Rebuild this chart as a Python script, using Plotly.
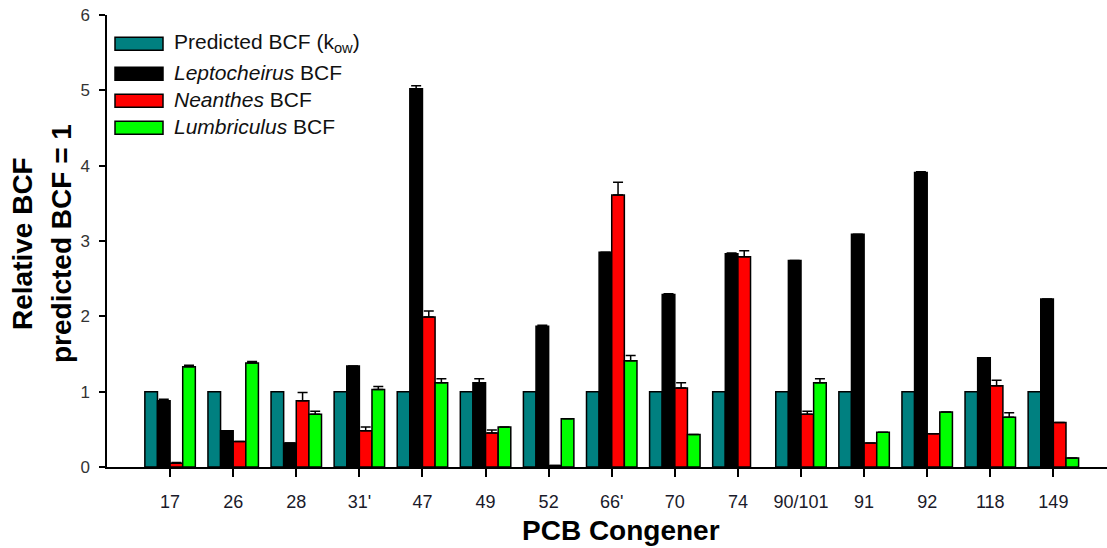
import plotly.graph_objects as go

congeners = ["17", "26", "28", "31'", "47", "49", "52", "66'", "70", "74",
             "90/101", "91", "92", "118", "149"]
predicted = [1, 1, 1, 1, 1, 1, 1, 1, 1, 1, 1, 1, 1, 1, 1]
lepto = [0.88, 0.48, 0.32, 1.34, 5.02, 1.12, 1.87, 2.85, 2.29, 2.83, 2.74, 3.09, 3.91, 1.45, 2.23]
lepto_err = [0.02, 0.0, 0.0, 0.0, 0.04, 0.05, 0.01, 0.0, 0.01, 0.01, 0.0, 0.0, 0.01, 0.0, 0.0]
neanthes = [0.05, 0.34, 0.88, 0.48, 1.99, 0.45, 0.02, 3.61, 1.05, 2.79, 0.70, 0.32, 0.44, 1.08, 0.59]
neanthes_err = [0.01, 0.0, 0.11, 0.05, 0.08, 0.04, 0.0, 0.17, 0.07, 0.08, 0.04, 0.0, 0.0, 0.07, 0.0]
lumb = [1.33, 1.38, 0.70, 1.03, 1.12, 0.53, 0.64, 1.41, 0.43, None, 1.12, 0.46, 0.73, 0.66, 0.12]
lumb_err = [0.02, 0.02, 0.04, 0.04, 0.05, 0.0, 0.0, 0.07, 0.0, 0.0, 0.05, 0.0, 0.0, 0.06, 0.0]

series_names = ["Predicted BCF (k<sub>ow</sub>)", "<i>Leptocheirus</i> BCF",
                "<i>Neanthes</i> BCF", "<i>Lumbriculus</i> BCF"]
series_colors = ["#008080", "#000000", "#FF0000", "#00FF00"]

FONT = "Arial, Liberation Sans, sans-serif"

fig = go.Figure()
values = [predicted, lepto, neanthes, lumb]
errors = [None, lepto_err, neanthes_err, lumb_err]
for name, col, vals, err in zip(series_names, series_colors, values, errors):
    kw = {}
    if err is not None:
        kw["error_y"] = dict(type="data", array=err, arrayminus=[0] * len(err),
                             symmetric=False, color="black", thickness=1.5, width=5)
    fig.add_trace(go.Bar(x=congeners, y=vals, name=name,
                         marker=dict(color=col, line=dict(color="black", width=1.5)),
                         showlegend=False, **kw))

# plot area in page pixels spans x 107..1107, y 15..467
L, T, PW, PH = 107, 15, 1000, 452
W, H = 1107, 548
def px_x(p):
    return (p - L) / PW
def px_y(p):
    return (T + PH - p) / PH

# custom legend (wide swatches like the original)
legend_rows = [43.7, 73.8, 100.7, 127.8]
for name, col, cy in zip(series_names, series_colors, legend_rows):
    fig.add_shape(type="rect", xref="paper", yref="paper",
                  x0=px_x(115), x1=px_x(163), y0=px_y(cy + 6.5), y1=px_y(cy - 6.5),
                  fillcolor=col, line=dict(color="black", width=1.5))
    fig.add_annotation(xref="paper", yref="paper", x=px_x(172), y=px_y(cy - 1),
                       text=name, showarrow=False, xanchor="left", yanchor="middle",
                       font=dict(family=FONT, size=21, color="#111"))

# axis titles
fig.add_annotation(xref="paper", yref="paper", x=0, y=px_y(244), xshift=23 - L,
                   text="<b>Relative BCF</b>", textangle=-90, showarrow=False,
                   xanchor="center", yanchor="middle",
                   font=dict(family=FONT, size=28, color="black"))
fig.add_annotation(xref="paper", yref="paper", x=0, y=px_y(244), xshift=62 - L,
                   text="<b>predicted BCF = 1</b>", textangle=-90, showarrow=False,
                   xanchor="center", yanchor="middle",
                   font=dict(family=FONT, size=28, color="black"))
fig.add_annotation(xref="paper", yref="paper", x=px_x(621), y=0, yshift=-(530 - 467),
                   text="<b>PCB Congener</b>", showarrow=False,
                   xanchor="center", yanchor="middle",
                   font=dict(family=FONT, size=28, color="black"))

fig.update_layout(
    width=W, height=H,
    margin=dict(l=L, r=W - L - PW, t=T, b=H - T - PH),
    paper_bgcolor="white", plot_bgcolor="white",
    barmode="group", bargap=0.2, bargroupgap=0,
    font=dict(family=FONT, size=18, color="#1a1a1a"),
    xaxis=dict(type="category", range=[-1, 14.85], showgrid=False, zeroline=False,
               automargin=False, ticklabeloverflow="allow",
               showline=True, linecolor="black", linewidth=1.5,
               ticks="outside", ticklen=8, tickwidth=1.5, tickcolor="black",
               tickfont=dict(size=18, color="#1a1a2a"), ticklabelstandoff=10),
    yaxis=dict(range=[0, 6], dtick=1, showgrid=False, zeroline=False,
               automargin=False, ticklabeloverflow="allow",
               showline=True, linecolor="black", linewidth=1.5,
               ticks="outside", ticklen=6, tickwidth=1.5, tickcolor="black",
               tickfont=dict(size=17, color="#333"), ticklabelstandoff=6),
)

# remove the default 8px page margin so the figure fills the window exactly
fig.write_html("out.html", config={"displayModeBar": False},
               post_script="document.body.style.margin='0';")
